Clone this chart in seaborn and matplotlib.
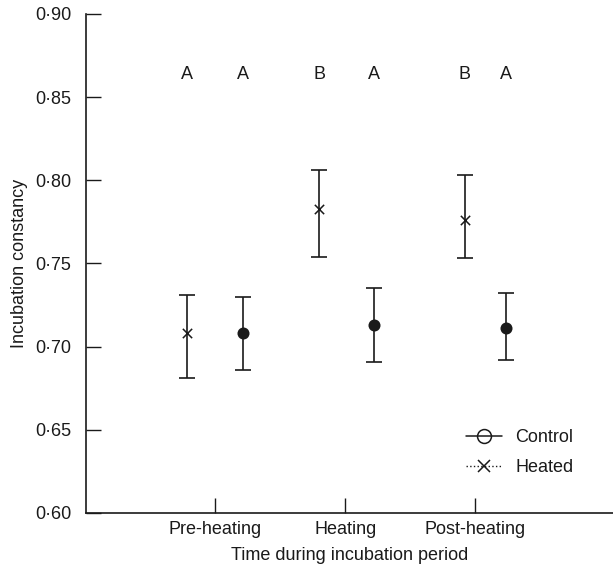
import matplotlib
matplotlib.use("Agg")
import matplotlib.pyplot as plt
from matplotlib.lines import Line2D
import numpy as np
import pandas as pd
import seaborn as sns

# values
periods = ["Pre-heating", "Heating", "Post-heating"]
heated_mean = [0.708, 0.783, 0.776]
heated_low = [0.681, 0.754, 0.753]
heated_high = [0.731, 0.806, 0.803]
control_mean = [0.708, 0.713, 0.711]
control_low = [0.686, 0.691, 0.692]
control_high = [0.730, 0.735, 0.732]
heated_letters = ["A", "B", "B"]
control_letters = ["A", "A", "A"]
yticks = [0.60, 0.65, 0.70, 0.75, 0.80, 0.85, 0.90]
ytick_labels = ["0·60", "0·65", "0·70", "0·75", "0·80", "0·85", "0·90"]

# horizontal placement of each series inside its period (layout)
heated_offset = [-0.22, -0.20, -0.08]
control_offset = [0.21, 0.22, 0.24]

sns.set_style("ticks")
plt.rcParams["font.family"] = ["Liberation Sans", "DejaVu Sans"]
ink = "#1a1a1a"
fs = 13

base = np.arange(len(periods))
df = pd.DataFrame({
    "x": np.concatenate([base + np.array(heated_offset), base + np.array(control_offset)]),
    "mean": heated_mean + control_mean,
    "low": heated_low + control_low,
    "high": heated_high + control_high,
    "letter": heated_letters + control_letters,
    "group": ["Heated"] * 3 + ["Control"] * 3,
})

fig = plt.figure(figsize=(6.13, 5.71), dpi=100)
ax = fig.add_axes([0.1395, 0.1016, 0.8605, 0.874])

ax.errorbar(df["x"], df["mean"],
            yerr=[df["mean"] - df["low"], df["high"] - df["mean"]],
            fmt="none", ecolor=ink, elinewidth=1.2, capsize=5.5, capthick=1.2, zorder=2)

sns.scatterplot(data=df[df["group"] == "Control"], x="x", y="mean", marker="o",
                color=ink, s=75, edgecolor=ink, linewidth=0, ax=ax, zorder=3, legend=False)
sns.scatterplot(data=df[df["group"] == "Heated"], x="x", y="mean", marker="x",
                color=ink, s=45, linewidth=1.1, ax=ax, zorder=3, legend=False)

for _, r in df.iterrows():
    ax.text(r["x"], 0.8637, r["letter"], ha="center", va="center", fontsize=fs, color=ink)

ax.set_xlim(-1.0, 3.06)
ax.set_ylim(0.60, 0.90)
ax.set_xticks(base)
ax.set_xticklabels(periods, fontsize=fs)
ax.set_yticks(yticks)
ax.set_yticklabels(ytick_labels, fontsize=fs)
ax.tick_params(direction="in", length=11, width=1.0, color=ink, labelcolor=ink)
ax.tick_params(axis="y", pad=10)
ax.tick_params(axis="x", pad=6)
sns.despine(ax=ax)
for s in ["left", "bottom"]:
    ax.spines[s].set_linewidth(1.2)
    ax.spines[s].set_color(ink)
ax.set_xlabel("Time during incubation period", fontsize=fs, color=ink, labelpad=6)
ax.set_ylabel("Incubation constancy", fontsize=fs, color=ink, labelpad=5)

handles = [
    Line2D([], [], color=ink, lw=1.1, marker="o", markerfacecolor="none",
           markeredgecolor=ink, markersize=10, markeredgewidth=1.1),
    Line2D([], [], color=ink, lw=1.0, ls=":", marker="x", markersize=9,
           markeredgewidth=1.1),
]
ax.legend(handles, ["Control", "Heated"], loc="upper left", bbox_to_anchor=(0.69, 0.201),
          frameon=False, fontsize=fs, handlelength=2.0, handletextpad=0.75,
          labelspacing=0.75, labelcolor=ink)

fig.savefig("out.png", dpi=100)
